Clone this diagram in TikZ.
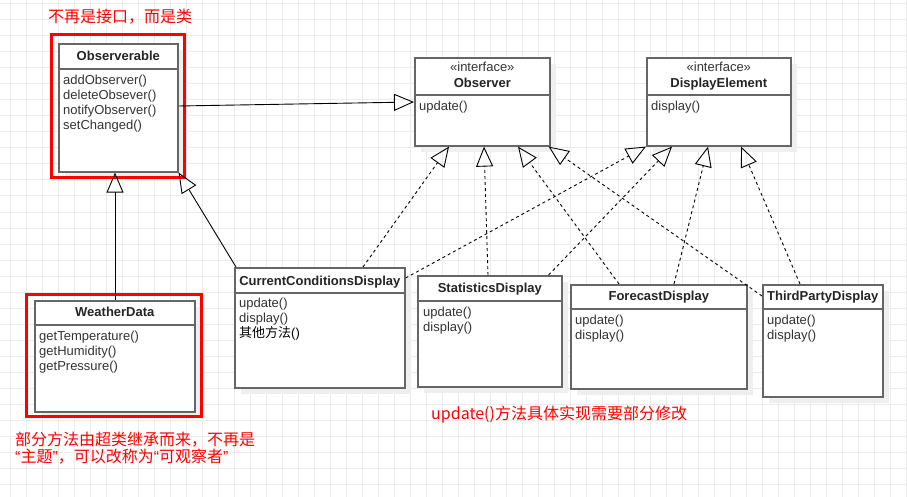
\documentclass[tikz,border=0pt]{standalone}
\usepackage{fontspec}
\setmainfont{Liberation Sans}
\newfontfamily\cjk{Noto Sans CJK SC}
\newfontfamily\lat{Liberation Sans}
\usetikzlibrary{arrows.meta,calc}
\definecolor{gridc}{HTML}{EBEBEB}
\definecolor{boxc}{HTML}{666666}
\definecolor{txtc}{HTML}{333333}
\definecolor{shadc}{HTML}{EFEFEF}
\definecolor{redc}{HTML}{FF0000}
\tikzset{
  gridline/.style={draw=gridc, line width=1pt},
  umlbox/.style={draw=boxc, line width=1.6pt, fill=white, rectangle, inner sep=0pt, anchor=north west},
  umlsep/.style={draw=boxc, line width=1.6pt},
  shade/.style={fill=shadc},
  ttl/.style={font=\fontsize{13}{15}\selectfont\bfseries, text=txtc!70!black, inner sep=0pt, anchor=base},
  stereo/.style={font=\fontsize{13}{15}\selectfont, text=txtc, inner sep=0pt, anchor=base},
  meth/.style={font=\fontsize{13}{15}\selectfont, text=txtc, inner sep=0pt, anchor=base west},
  redbox/.style={draw=redc, line width=3pt},
  note/.style={font=\fontsize{16}{17}\selectfont\cjk, text=redc, inner sep=0pt, anchor=west},
  inh/.style={draw=black, line width=0.9pt, -{Triangle[open, length=20pt, width=17pt, line width=0.9pt]}},
  real/.style={inh, dash pattern=on 3pt off 3pt},
}
\newcommand\umlmethods[4]{% node, xoff, yoff, list
  \foreach \t [count=\i] in {#4} {
    \node[meth] (#1-m\i) at ($(#1.north west)+(#2,{#3+15*(\i-1)})$) {\t};
  }
}
\newcommand\myopenq{{\lat “}}
\newcommand\mycloseq{{\lat ”}}
\begin{document}
\begin{tikzpicture}[x=1pt, y=-1pt]
\useasboundingbox (0,0) rectangle (907,497);
\fill[white] (0,0) rectangle (907,497);
\foreach \x in {10,26,...,906} \draw[gridline] (\x,0) -- (\x,497);
\foreach \y in {4,20,...,496} \draw[gridline] (0,\y) -- (907,\y);

% ---------- Observerable
\fill[shade] (65,50) rectangle (184,178);
\node[umlbox, minimum width=119pt, minimum height=128pt] (obs) at (58,43) {};
\draw[umlsep] ([yshift=-26pt]obs.north west) -- ([yshift=-26pt]obs.north east);
\node[ttl] (obs-t) at ($(obs.north)+(0,17.5)$) {Observerable};
\umlmethods{obs}{5}{41.5}{addObserver(),deleteObsever(),notifyObserver(),setChanged()}

% ---------- Observer
\fill[shade] (421,64) rectangle (556,152);
\node[umlbox, minimum width=135pt, minimum height=88pt] (observer) at (414,57) {};
\draw[umlsep] ([yshift=-38pt]observer.north west) -- ([yshift=-38pt]observer.north east);
\node[stereo] (observer-s) at ($(observer.north)+(0,15)$) {«interface»};
\node[ttl] (observer-t) at ($(observer.north)+(0,30.5)$) {Observer};
\umlmethods{observer}{5}{53.5}{update()}

% ---------- DisplayElement
\fill[shade] (653,64) rectangle (797,152);
\node[umlbox, minimum width=144pt, minimum height=88pt] (disp) at (646,57) {};
\draw[umlsep] ([yshift=-38pt]disp.north west) -- ([yshift=-38pt]disp.north east);
\node[stereo] (disp-s) at ($(disp.north)+(0,15)$) {«interface»};
\node[ttl] (disp-t) at ($(disp.north)+(0,30.5)$) {DisplayElement};
\umlmethods{disp}{5}{53.5}{display()}

% ---------- WeatherData
\fill[shade] (41,307) rectangle (201,418);
\node[umlbox, minimum width=160pt, minimum height=111pt] (wd) at (34,300) {};
\draw[umlsep] ([yshift=-25pt]wd.north west) -- ([yshift=-25pt]wd.north east);
\node[ttl] (wd-t) at ($(wd.north)+(0,16.5)$) {WeatherData};
\umlmethods{wd}{5}{40.5}{getTemperature(),getHumidity(),getPressure()}

% ---------- CurrentConditionsDisplay
\fill[shade] (241,274) rectangle (411,394);
\node[umlbox, minimum width=170pt, minimum height=120pt] (ccd) at (234,267) {};
\draw[umlsep] ([yshift=-26pt]ccd.north west) -- ([yshift=-26pt]ccd.north east);
\node[ttl] (ccd-t) at ($(ccd.north)+(0,18.5)$) {CurrentConditionsDisplay};
\umlmethods{ccd}{5}{40.5}{update(),display()}
\node[meth, text=black] (ccd-m3) at ($(ccd.north west)+(5,70.5)$) {{\cjk 其他方法}()};

% ---------- StatisticsDisplay
\fill[shade] (424,282) rectangle (568,393);
\node[umlbox, minimum width=144pt, minimum height=111pt] (stats) at (417,275) {};
\draw[umlsep] ([yshift=-26pt]stats.north west) -- ([yshift=-26pt]stats.north east);
\node[ttl] (stats-t) at ($(stats.north)+(0,17.5)$) {StatisticsDisplay};
\umlmethods{stats}{6}{41.5}{update(),display()}

% ---------- ForecastDisplay
\fill[shade] (577,291) rectangle (753,395);
\node[umlbox, minimum width=176pt, minimum height=104pt] (fc) at (570,284) {};
\draw[umlsep] ([yshift=-25pt]fc.north west) -- ([yshift=-25pt]fc.north east);
\node[ttl] (fc-t) at ($(fc.north)+(0,16.5)$) {ForecastDisplay};
\umlmethods{fc}{5}{40.5}{update(),display()}

% ---------- ThirdPartyDisplay
\fill[shade] (769,291) rectangle (889,403);
\node[umlbox, minimum width=120pt, minimum height=112pt] (tp) at (762,284) {};
\draw[umlsep] ([yshift=-25pt]tp.north west) -- ([yshift=-25pt]tp.north east);
\node[ttl] (tp-t) at ($(tp.north)+(0,16.5)$) {ThirdPartyDisplay};
\umlmethods{tp}{5}{40.5}{update(),display()}

% ---------- red highlight boxes
\draw[redbox] (51,35) rectangle (184,178);
\draw[redbox] (26,294) rectangle (201,416);

% ---------- inheritance (solid)
\draw[inh] ($(obs.north east)+(0,63)$) -- ($(observer.north west)+(0,45)$);
\draw[inh] ($(wd.north west)+(81,0)$) -- ($(obs.south west)+(57,0)$);
\draw[inh] ($(ccd.north west)+(2,0)$) -- (obs.south east);

% ---------- realization (dashed)
\draw[real] ($(ccd.north west)+(129,0)$) -- ($(observer.south west)+(35,0)$);
\draw[real] ($(stats.north west)+(71,0)$) -- ($(observer.south west)+(70,0)$);
\draw[real] ($(fc.north west)+(49,0)$) -- ($(observer.south west)+(104,0)$);
\draw[real] ($(tp.north west)+(0,12)$) -- ($(observer.south east)+(-2,0)$);
\draw[real] ($(ccd.north east)+(0,11)$) -- (disp.south west);
\draw[real] ($(stats.north east)+(-14,0)$) -- ($(disp.south west)+(26,0)$);
\draw[real] ($(fc.north west)+(104,0)$) -- ($(disp.south west)+(62,0)$);
\draw[real] ($(tp.north west)+(38,0)$) -- ($(disp.south west)+(95,0)$);

% ---------- notes
\node[note] (n1) at (48,17) {不再是接口，而是类};
\node[note] (n2) at (15,440) {部分方法由超类继承而来，不再是};
\node[note] (n3) at (15,457) {\myopenq 主题\mycloseq ，可以改称为\myopenq 可观察者\mycloseq};
\node[note] (n4) at (431,415) {update()方法具体实现需要部分修改};
\end{tikzpicture}
\end{document}
